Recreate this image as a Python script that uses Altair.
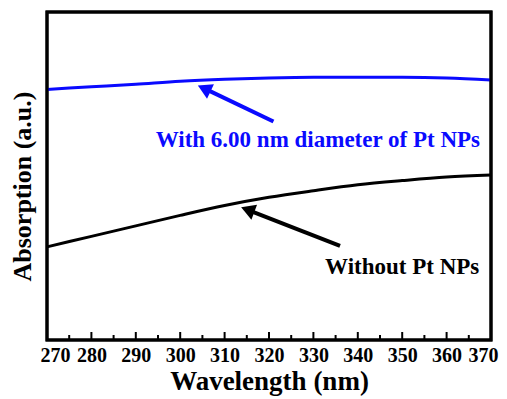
import altair as alt
import pandas as pd

wavelength = [270, 280, 290, 300, 310, 320, 330, 340, 350, 360, 370]
without_pt = [0.284, 0.316, 0.348, 0.380, 0.410, 0.435, 0.455, 0.473, 0.486, 0.497, 0.503]
with_pt = [0.764, 0.772, 0.780, 0.789, 0.795, 0.799, 0.801, 0.801, 0.801, 0.799, 0.793]

series_names = ["Without Pt NPs", "With 6.00 nm diameter of Pt NPs"]
series_colors = ["#000000", "#0a0aff"]

rows = []
for w, a, b in zip(wavelength, without_pt, with_pt):
    rows.append({"x": w, "y": a, "s": series_names[0]})
    rows.append({"x": w, "y": b, "s": series_names[1]})
df = pd.DataFrame(rows)

# annotations: arrows (tail -> head) and labels
arrow_tail_x = [336.0, 321.0]
arrow_tail_y = [0.287, 0.666]
arrow_head_x = [315.2, 305.4]
arrow_head_y = [0.397, 0.767]
arrow_angle = [290.5, 295.4]
label_x = [350.0, 331.0]
label_y = [0.223, 0.610]

ann = pd.DataFrame({
    "s": series_names,
    "tx": arrow_tail_x, "ty": arrow_tail_y,
    "hx": arrow_head_x, "hy": arrow_head_y,
    "ang": arrow_angle, "lx": label_x, "ly": label_y,
})

major_ticks = list(range(270, 371, 10))
minor_ticks = list(range(275, 370, 10))

xs = alt.Scale(domain=[270, 370], nice=False)
ys = alt.Scale(domain=[0, 1], nice=False)
cs = alt.Scale(domain=series_names, range=series_colors)
FONT = "Liberation Serif"

lines = alt.Chart(df).mark_line(strokeWidth=3, interpolate="monotone").encode(
    x=alt.X("x:Q", scale=xs,
            axis=alt.Axis(title="Wavelength (nm)", values=major_ticks, format="d",
                          ticks=False, domain=False, grid=False, labelPadding=5,
                          labelOverlap=False, labelFlush=True, labelFlushOffset=7,
                          labelFontSize=20, labelFont=FONT, labelFontWeight="bold",
                          labelColor="black", titleFontSize=27, titleFont=FONT,
                          titleFontWeight="bold", titleColor="black", titlePadding=3)),
    y=alt.Y("y:Q", scale=ys,
            axis=alt.Axis(title="Absorption (a.u.)", ticks=False, labels=False,
                          domain=False, grid=False, titleFontSize=26, titleFont=FONT,
                          titleFontWeight="bold", titleColor="black",
                          titleX=-12, titleY=174, titleBaseline="bottom", titleAlign="center")),
    color=alt.Color("s:N", scale=cs, legend=None),
)

# plot frame
frame = alt.Chart(pd.DataFrame({"a": [0]})).mark_rect(
    fill="transparent", stroke="#000000", strokeWidth=3, strokeOpacity=1).encode(
    x=alt.value(0), x2=alt.value(444), y=alt.value(0), y2=alt.value(328))

major = alt.Chart(pd.DataFrame({"x": major_ticks})).mark_rule(color="black", strokeWidth=2).encode(
    x=alt.X("x:Q", scale=xs), y=alt.value(328), y2=alt.value(320))
minor = alt.Chart(pd.DataFrame({"x": minor_ticks})).mark_rule(color="black", strokeWidth=2).encode(
    x=alt.X("x:Q", scale=xs), y=alt.value(328), y2=alt.value(323))

shafts = alt.Chart(ann).mark_rule(strokeWidth=4).encode(
    x=alt.X("tx:Q", scale=xs), y=alt.Y("ty:Q", scale=ys),
    x2="hx:Q", y2="hy:Q",
    color=alt.Color("s:N", scale=cs, legend=None))
heads = alt.Chart(ann).mark_point(shape="triangle-up", filled=True, size=260, opacity=1).encode(
    x=alt.X("hx:Q", scale=xs), y=alt.Y("hy:Q", scale=ys),
    angle=alt.Angle("ang:Q", scale=None),
    color=alt.Color("s:N", scale=cs, legend=None))
labels = alt.Chart(ann).mark_text(font=FONT, fontWeight="bold", fontSize=23, align="center",
                                  baseline="middle").encode(
    x=alt.X("lx:Q", scale=xs), y=alt.Y("ly:Q", scale=ys), text="s:N",
    color=alt.Color("s:N", scale=cs, legend=None))

chart = alt.layer(lines, major, minor, shafts, heads, labels, frame).properties(
    width=444, height=328,
    background="white",
    autosize=alt.AutoSizeParams(type="none"),
    padding={"left": 39, "top": 4, "right": 8, "bottom": 58},
).configure_view(stroke="#000000", strokeWidth=3, strokeOpacity=1)

chart.save("out.html", embed_options={"renderer": "svg", "actions": False})
